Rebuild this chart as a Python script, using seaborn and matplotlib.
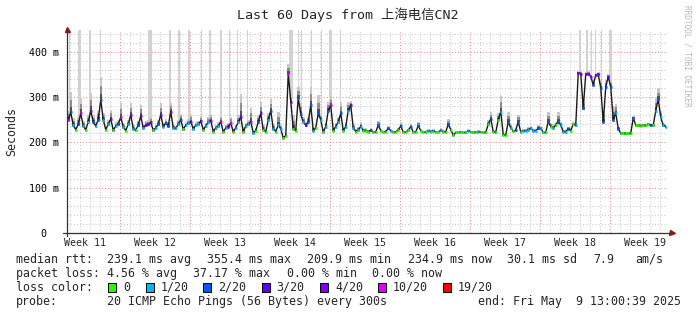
import numpy as np
import matplotlib
matplotlib.use("Agg")
import matplotlib.pyplot as plt
import seaborn as sns
from matplotlib.patches import Rectangle
import matplotlib.transforms as mtransforms

sns.set_theme(style="white")
plt.rcParams['font.family'] = ['DejaVu Sans Mono', 'Noto Sans CJK SC']

# ---------------- data (4 samples per day, 60 days) ----------------
median_ms = [
    [250, 266, 238, 228], [240, 264, 236, 228], [245, 270, 245, 236], [250, 294, 250, 228],
    [240, 252, 227, 236], [240, 256, 234, 226], [240, 261, 230, 227], [238, 258, 232, 238],
    [240, 244, 227, 232], [240, 261, 235, 242], [236, 268, 232, 231], [240, 250, 229, 238],
    [242, 246, 230, 238], [240, 247, 228, 236], [245, 248, 224, 232], [236, 246, 223, 232],
    [235, 242, 224, 232], [245, 256, 223, 236], [240, 246, 221, 226], [245, 264, 228, 223],
    [250, 270, 230, 224], [238, 230, 210, 215], [352, 290, 230, 226], [298, 262, 245, 238],
    [245, 282, 226, 232], [264, 250, 223, 235], [270, 282, 226, 235], [245, 264, 226, 235],
    [270, 282, 232, 224], [228, 235, 226, 226], [224, 227, 223, 223], [238, 226, 223, 224],
    [231, 226, 223, 223], [228, 236, 223, 223], [227, 235, 223, 223], [237, 226, 223, 223],
    [226, 224, 226, 223], [223, 227, 224, 223], [240, 228, 216, 222], [222, 223, 222, 222],
    [226, 223, 222, 223], [224, 223, 222, 222], [240, 252, 224, 222], [250, 268, 217, 216],
    [246, 232, 225, 227], [246, 223, 226, 226], [228, 231, 226, 226], [231, 231, 222, 222],
    [246, 235, 232, 238], [246, 238, 224, 224], [230, 226, 240, 238], [353, 352, 275, 351],
    [352, 345, 327, 349], [350, 320, 245, 322], [345, 322, 250, 265], [230, 220, 220, 220],
    [220, 220, 254, 238], [238, 237, 238, 238], [240, 238, 238, 270], [295, 255, 238, 235],
]

loss_of_20 = [
    [10, 2, 1, 0], [2, 10, 1, 0], [1, 4, 2, 1], [2, 2, 1, 0], [1, 4, 0, 1], [2, 10, 1, 0],
    [1, 4, 1, 0], [2, 4, 1, 3], [3, 4, 0, 1], [2, 4, 1, 2], [2, 4, 1, 1], [1, 2, 0, 1],
    [1, 4, 1, 1], [1, 3, 0, 1], [1, 4, 0, 1], [1, 10, 0, 1], [3, 10, 0, 1], [1, 4, 0, 1],
    [1, 10, 1, 0], [2, 4, 0, 0], [1, 2, 1, 0], [1, 1, 0, 0], [10, 3, 0, 0], [2, 2, 1, 3],
    [2, 2, 1, 0], [2, 1, 0, 1], [2, 10, 0, 1], [1, 2, 0, 1], [1, 4, 1, 0], [1, 1, 0, 0],
    [0, 2, 0, 0], [2, 0, 0, 0], [2, 1, 0, 0], [0, 2, 0, 0], [0, 2, 0, 0], [2, 0, 0, 0],
    [1, 0, 1, 0], [0, 1, 0, 0], [2, 0, 0, 0], [0, 0, 0, 0], [1, 0, 0, 0], [1, 0, 0, 0],
    [0, 2, 0, 0], [0, 1, 0, 0], [2, 1, 0, 2], [2, 0, 1, 1], [1, 1, 1, 1], [2, 1, 0, 0],
    [2, 0, 1, 0], [2, 1, 1, 1], [2, 0, 0, 1], [4, 4, 2, 4], [4, 4, 2, 4], [4, 2, 2, 2],
    [3, 2, 2, 1], [2, 0, 0, 0], [0, 0, 2, 0], [0, 0, 0, 0], [0, 2, 0, 1], [2, 1, 1, 1],
]

smoke_up_ms = [
    [20, 45, 15, 5], [15, 35, 12, 5], [15, 40, 15, 8], [20, 50, 15, 5], [10, 20, 5, 8],
    [10, 30, 8, 5], [10, 25, 8, 5], [10, 25, 8, 10], [10, 12, 5, 6], [10, 25, 8, 10],
    [10, 20, 6, 6], [10, 12, 5, 6], [10, 15, 6, 6], [8, 12, 5, 6], [10, 15, 5, 6],
    [8, 12, 5, 6], [8, 15, 5, 6], [15, 50, 10, 6], [10, 30, 5, 5], [15, 25, 10, 5],
    [15, 25, 10, 5], [30, 10, 5, 5], [20, 15, 30, 5], [25, 25, 10, 8], [10, 40, 8, 5],
    [40, 15, 5, 8], [20, 20, 5, 8], [10, 25, 5, 8], [20, 10, 8, 5], [5, 10, 5, 5],
    [3, 4, 3, 3], [10, 3, 3, 3], [5, 3, 3, 3], [3, 8, 3, 3], [3, 6, 3, 3],
    [8, 3, 3, 3], [4, 3, 3, 3], [3, 4, 3, 3], [12, 4, 3, 3], [3, 3, 3, 3],
    [3, 3, 3, 3], [3, 3, 3, 3], [10, 15, 3, 3], [15, 35, 3, 3], [20, 8, 3, 5],
    [15, 3, 3, 3], [5, 5, 3, 3], [8, 5, 3, 3], [20, 8, 8, 8], [20, 8, 3, 3],
    [5, 5, 5, 5], [5, 5, 15, 5], [5, 5, 10, 5], [5, 20, 25, 15], [5, 15, 30, 20],
    [5, 3, 3, 3], [3, 3, 5, 3], [3, 3, 3, 3], [3, 3, 3, 30], [25, 15, 5, 5],
]

# tall smoke columns (max ping off the chart), day positions and widths
spike_day = [0.25, 1.25, 2.3, 3.35, 8.25, 10.3, 11.2, 12.2, 13.45, 14.3, 15.4, 16.25,
             17.05, 18.05, 22.35, 23.15, 23.45, 24.45, 25.45, 26.35, 27.3, 51.25, 52.0,
             52.45, 52.85, 53.45, 54.35]
spike_width = [0.15, 0.3, 0.15, 0.15, 0.4, 0.2, 0.2, 0.15, 0.15, 0.15, 0.15, 0.15,
               0.15, 0.15, 0.4, 0.15, 0.1, 0.15, 0.1, 0.3, 0.1, 0.2, 0.15, 0.15,
               0.15, 0.15, 0.3]

week_labels = ["Week 11", "Week 12", "Week 13", "Week 14", "Week 15",
               "Week 16", "Week 17", "Week 18", "Week 19"]
week_start_day = [5.3, 12.3, 19.3, 26.3, 33.3, 40.3, 47.3, 54.3]
week_label_day = [1.8, 8.8, 15.8, 22.8, 29.8, 36.8, 43.8, 50.8, 57.8]

y_ticks = [0, 100, 200, 300, 400]
y_tick_labels = ["0\u00a0\u00a0", "100 m", "200 m", "300 m", "400 m"]

loss_levels = [0, 1, 2, 3, 4, 10, 19]
loss_names = ["0", "1/20", "2/20", "3/20", "4/20", "10/20", "19/20"]
loss_colors = ["#26ff00", "#00b8ff", "#0059ff", "#5e00ff", "#7e00ff", "#dd00ff", "#ff0000"]

title = "Last 60 Days from 上海电信CN2"

# ---------------- figure ----------------
W, H = 697, 315
fig = plt.figure(figsize=(W / 100, H / 100), dpi=100)
fig.patch.set_facecolor("white")
ax = fig.add_axes([67 / W, 1 - 233 / H, 600 / W, 203 / H])
ax.set_facecolor("white")

med = np.ravel(np.array(median_ms, dtype=float))
loss = np.ravel(np.array(loss_of_20))
smk = np.ravel(np.array(smoke_up_ms, dtype=float))
t = (np.arange(len(med)) + 0.5) / 4.0

ax.set_xlim(0, 60)
ax.set_ylim(0, 448)

# grid
ax.set_yticks(y_ticks)
ax.set_yticks(np.arange(0, 441, 20), minor=True)
ax.set_xticks(week_start_day)
ax.set_xticks(np.arange(0.3, 60, 1.0), minor=True)
ax.grid(which="minor", color="#c8c8c8", ls=(0, (1, 2)), lw=0.75)
ax.grid(which="major", color="#e38c8c", ls=(0, (1, 2)), lw=0.75)
ax.set_axisbelow(True)

# tall grey smoke columns
spike_bottom = np.interp(spike_day, t, med)
ax.bar(spike_day, 448 - spike_bottom, bottom=spike_bottom, width=spike_width,
       color="#d2d2d2", linewidth=0, zorder=1.5)

# smoke
ax.fill_between(t, med - 4, med + smk, step="mid", color="#c8c8c8", lw=0, zorder=2)
ax.fill_between(t, med - 3, med + smk * 0.6, step="mid", color="#8e8e8e", lw=0, zorder=2.1)
ax.fill_between(t, med - 1, med + smk * 0.25, step="mid", color="#505050", lw=0, zorder=2.2)

# median line (dark) + loss-coloured segments
sns.lineplot(x=t, y=med, color="#1a1a1a", lw=1.0, ax=ax, legend=False, zorder=3)
cmap = dict(zip(loss_levels, loss_colors))
seg_colors = [cmap[v] for v in loss]
ax.hlines(med, t - 0.1, t + 0.1, colors=seg_colors, lw=2.0, zorder=4)

ax.set_xlabel("")
ax.set_ylabel("")
for s in ax.spines.values():
    s.set_visible(False)

ax.set_yticklabels(y_tick_labels)
ax.tick_params(axis="y", which="both", length=0, pad=5.5, labelsize=7.2, labelcolor="black")
ax.tick_params(axis="x", which="major", length=2, width=0.7, color="#e38c8c",
               direction="out", labelbottom=False)
ax.tick_params(axis="x", which="minor", length=0, labelbottom=False)

# axes lines with arrows
ax.plot([-0.4, 60.4], [0, 0], color="#333333", lw=0.9, clip_on=False, zorder=5)
ax.plot([0, 0], [-6, 449], color="#333333", lw=0.9, clip_on=False, zorder=5)
ax.plot([60.45], [0], marker=">", ms=3.6, color="#8b1a1a", clip_on=False, zorder=6)
ax.plot([0], [451], marker="^", ms=3.6, color="#8b1a1a", clip_on=False, zorder=6)

# week labels
trans = mtransforms.blended_transform_factory(ax.transData, ax.transAxes)
for d, lab in zip(week_label_day, week_labels):
    ax.text(d, -0.048, lab, transform=trans, ha="center", va="center", fontsize=7.2)

# title, y label, watermark
fig.text(348 / W, 1 - 15 / H, title, ha="center", va="center", fontsize=9.6)
fig.text(12 / W, 1 - 131.5 / H, "Seconds", rotation=90, ha="center", va="center", fontsize=8.4)
fig.text(687 / W, 1 - 5 / H, "RRDTOOL / TOBI OETIKER", rotation=270, ha="center", va="top",
         fontsize=5.6, color="#b8b8b8")

# legend text
def ftext(x, y, s):
    fig.text(x / W, 1 - y / H, s, ha="left", va="center", fontsize=8.4)

y1, y2, y3, y4 = 259.5, 273.5, 287.5, 301.5
ftext(16, y1, "median rtt:")
ftext(107.3, y1, "239.1 ms avg")
ftext(207.3, y1, "355.4 ms max")
ftext(306.7, y1, "209.9 ms min")
ftext(407.7, y1, "234.9 ms now")
ftext(506.7, y1, "30.1 ms sd")
ftext(593.3, y1, "7.9")
ftext(635, y1, "am/s")

ftext(16, y2, "packet loss:")
ftext(107.3, y2, "4.56 % avg")
ftext(193.3, y2, "37.17 % max")
ftext(286.7, y2, "0.00 % min")
ftext(372.3, y2, "0.00 % now")

ftext(16, y3, "loss color:")
box_x = [108.3, 145.7, 203.3, 261.7, 320.0, 377.7, 442.7]
for bx, c, name in zip(box_x, loss_colors, loss_names):
    fig.add_artist(Rectangle((bx / W, 1 - (y3 + 4.5) / H), 8 / W, 9 / H,
                             transform=fig.transFigure, facecolor=c,
                             edgecolor="black", lw=0.7))
    ftext(bx + 15, y3, name)

ftext(16, y4, "probe:")
ftext(107.3, y4, "20 ICMP Echo Pings (56 Bytes) every 300s")
ftext(478.3, y4, "end: Fri May  9 13:00:39 2025")

fig.savefig("out.png", dpi=100, facecolor="white")
